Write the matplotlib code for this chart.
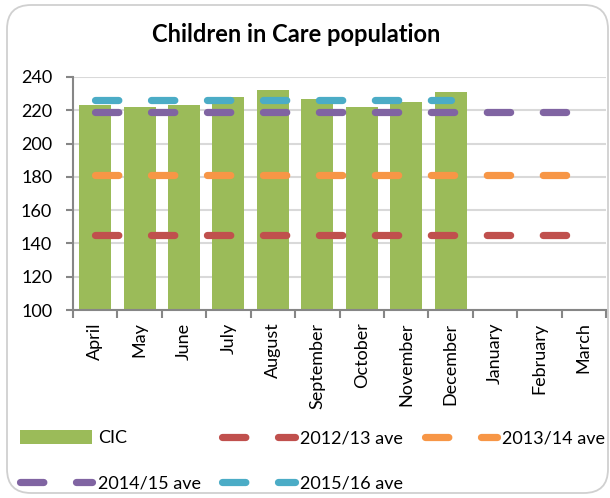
import numpy as np
import matplotlib
matplotlib.use("Agg")
import matplotlib.pyplot as plt
from matplotlib.patches import FancyBboxPatch, Patch
from matplotlib.transforms import IdentityTransform

plt.rcParams["font.family"] = ["Lato", "DejaVu Sans"]
plt.rcParams["lines.scale_dashes"] = False

# ── data ─────────────────────────────────────────────────────────
months = ["April", "May", "June", "July", "August", "September",
          "October", "November", "December", "January", "February", "March"]
cic = [223, 222, 223, 228, 232, 227, 222, 225, 231]
ave_1213 = [145, 145, 145, 145, 145, 145, 145, 145, 145, 145, 145, 145]
ave_1314 = [181, 181, 181, 181, 181, 181, 181, 181, 181, 181, 181, 181]
ave_1415 = [219, 219, 219, 219, 219, 219, 219, 219, 219, 219, 219, 219]
ave_1516 = [226, 226, 226, 226, 226, 226, 226, 226, 226]

GREEN = "#9BBB59"
RED = "#C0504D"
ORANGE = "#F79646"
PURPLE = "#8064A2"
CYAN = "#4BACC6"
AXIS_GREY = "#868686"
GRID_GREY = "#D9D9D9"

W, H = 610, 498
fig = plt.figure(figsize=(W / 100, H / 100), dpi=100)

# rounded chart-area border, kept behind the axes
border = FancyBboxPatch((7, H - 493), 601, 488,
                        boxstyle="round,pad=0,rounding_size=24",
                        transform=IdentityTransform(),
                        facecolor="white", edgecolor="#D0D0D0", lw=1.3,
                        zorder=-10)
fig.patches.append(border)

ax = fig.add_axes([73 / W, 1 - 310 / H, 533 / W, 233 / H])
ax.set_facecolor("none")

x = np.arange(len(months))
ax.bar(x[:len(cic)], cic, width=0.72, color=GREEN, zorder=2)

dash_kw = dict(lw=5.2, dashes=(16.8, 23.5), dash_capstyle="round", zorder=3)
l1213, = ax.plot(x[:len(ave_1213)], ave_1213, color=RED, label="2012/13 ave", **dash_kw)
l1314, = ax.plot(x[:len(ave_1314)], ave_1314, color=ORANGE, label="2013/14 ave", **dash_kw)
l1415, = ax.plot(x[:len(ave_1415)], ave_1415, color=PURPLE, label="2014/15 ave", **dash_kw)
l1516, = ax.plot(x[:len(ave_1516)], ave_1516, color=CYAN, label="2015/16 ave", **dash_kw)

ax.set_xlim(-0.5, len(months) - 0.5)
ax.set_ylim(100, 240)
ax.set_yticks(np.arange(100, 241, 20))
ax.yaxis.grid(True, color=GRID_GREY, lw=1.5, zorder=0)
ax.set_axisbelow(True)

# category separators as major ticks, month names on minor ticks
ax.set_xticks(np.arange(-0.5, len(months), 1))
ax.set_xticklabels([])
ax.set_xticks(x, minor=True)
ax.set_xticklabels(months, minor=True, rotation=90, fontsize=13)
ax.tick_params(axis="x", which="major", length=6, width=1.5, color=AXIS_GREY)
ax.tick_params(axis="x", which="minor", length=0, pad=9)
ax.tick_params(axis="y", length=5, width=1.5, color=AXIS_GREY, labelsize=13, pad=10)

for side in ("top", "right"):
    ax.spines[side].set_visible(False)
for side in ("left", "bottom"):
    ax.spines[side].set_color(AXIS_GREY)
    ax.spines[side].set_linewidth(1.5)

fig.text(296.5 / W, 1 - 35 / H, "Children in Care population",
         ha="center", va="center", fontsize=17, fontweight="bold")

cic_handle = Patch(facecolor=GREEN, label="CIC")
fig.legend(handles=[cic_handle, l1415, l1213, l1516, l1314], ncol=3,
           loc="upper left", bbox_to_anchor=(20 / W, 1 - 430 / H),
           frameon=False, fontsize=13, handlelength=4.0, handleheight=0.8,
           handletextpad=0.3, columnspacing=1.2, labelspacing=1.6,
           borderpad=0, borderaxespad=0)

fig.savefig("out.png", dpi=100)
